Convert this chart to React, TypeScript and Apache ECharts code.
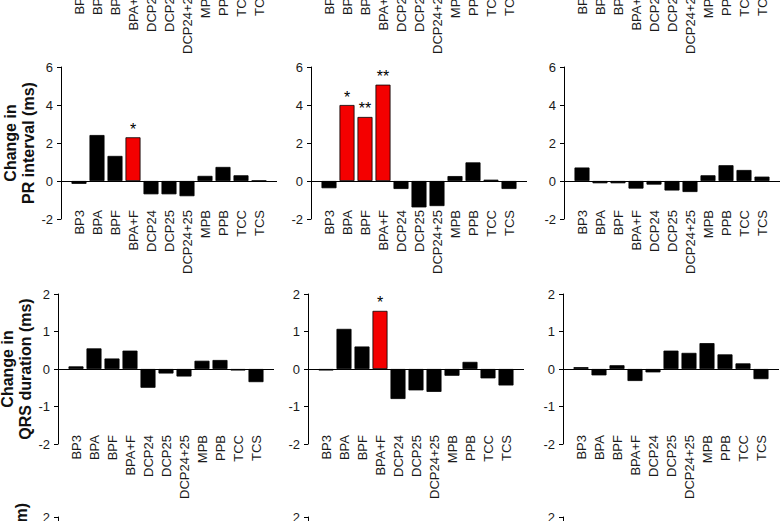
import React, { useEffect, useRef } from 'react';
import * as echarts from 'echarts';

// ---- data ----
const categories = ['BP3', 'BPA', 'BPF', 'BPA+F', 'DCP24', 'DCP25', 'DCP24+25', 'MPB', 'PPB', 'TCC', 'TCS'];

const prLeft = [-0.15, 2.42, 1.32, 2.3, -0.7, -0.7, -0.8, 0.27, 0.74, 0.3, 0.02];
const prMid = [-0.38, 4.0, 3.37, 5.07, -0.42, -1.39, -1.32, 0.26, 0.98, 0.07, -0.42];
const prRight = [0.71, -0.12, -0.12, -0.4, -0.19, -0.5, -0.58, 0.3, 0.83, 0.58, 0.23];

const qrsLeft = [0.07, 0.55, 0.28, 0.49, -0.5, -0.12, -0.2, 0.22, 0.24, -0.04, -0.35];
const qrsMid = [-0.04, 1.07, 0.6, 1.55, -0.8, -0.57, -0.61, -0.18, 0.19, -0.25, -0.44];
const qrsRight = [0.05, -0.17, 0.1, -0.32, -0.09, 0.49, 0.43, 0.69, 0.39, 0.15, -0.27];

const prLeftStars = ['', '', '', '*', '', '', '', '', '', '', ''];
const prMidStars = ['', '*', '**', '**', '', '', '', '', '', '', ''];
const prRightStars = ['', '', '', '', '', '', '', '', '', '', ''];
const qrsLeftStars = ['', '', '', '', '', '', '', '', '', '', ''];
const qrsMidStars = ['', '', '', '*', '', '', '', '', '', '', ''];
const qrsRightStars = ['', '', '', '', '', '', '', '', '', '', ''];

const prTitle = 'Change in\nPR interval (ms)';
const qrsTitle = 'Change in\nQRS duration (ms)';
const nextTitle = 'Change in heart rate (bpm)';

// ---- layout / style ----
const FONT = '"Liberation Sans", Arial, Helvetica, sans-serif';
const RED = '#f40000';
const W = 216;
const rowTops = [-153, 67, 294, 517];
const rowHeights = [152, 152, 150, 150];
const rowLefts = [
  [61, 311, 564],
  [61, 311, 564],
  [58, 308, 563],
  [58, 308, 563],
];

type Panel = {
  row: number;
  col: number;
  values?: number[];
  stars?: string[];
  yMin: number;
  yMax: number;
  yInt: number;
  showY: boolean;
  title?: string;
};

const panels: Panel[] = [];
for (let c = 0; c < 3; c++) panels.push({ row: 0, col: c, yMin: -2, yMax: 2, yInt: 1, showY: false });
const prSets = [prLeft, prMid, prRight];
const prStarSets = [prLeftStars, prMidStars, prRightStars];
for (let c = 0; c < 3; c++)
  panels.push({ row: 1, col: c, values: prSets[c], stars: prStarSets[c], yMin: -2, yMax: 6, yInt: 2, showY: true, title: c === 0 ? prTitle : undefined });
const qrsSets = [qrsLeft, qrsMid, qrsRight];
const qrsStarSets = [qrsLeftStars, qrsMidStars, qrsRightStars];
for (let c = 0; c < 3; c++)
  panels.push({ row: 2, col: c, values: qrsSets[c], stars: qrsStarSets[c], yMin: -2, yMax: 2, yInt: 1, showY: true, title: c === 0 ? qrsTitle : undefined });
for (let c = 0; c < 3; c++) panels.push({ row: 3, col: c, yMin: -2, yMax: 2, yInt: 1, showY: true });

function buildOption() {
  const grid: any[] = [];
  const xAxis: any[] = [];
  const yAxis: any[] = [];
  const series: any[] = [];
  panels.forEach((p, k) => {
    grid.push({
      left: rowLefts[p.row][p.col],
      top: rowTops[p.row],
      width: W,
      height: rowHeights[p.row],
      containLabel: false,
      outerBoundsMode: 'none',
    });
    xAxis.push({
      type: 'value',
      gridIndex: k,
      min: -1,
      max: 11,
      interval: 1,
      axisLine: { show: false, onZero: false },
      axisTick: { show: false },
      splitLine: { show: false },
      axisLabel: {
        rotate: 90,
        margin: -9,
        fontSize: 13,
        fontFamily: FONT,
        color: '#1a1a1a',
        formatter: (v: number) => categories[Math.round(v)] ?? '',
      },
    });
    yAxis.push({
      type: 'value',
      gridIndex: k,
      show: p.showY,
      min: p.yMin,
      max: p.yMax,
      interval: p.yInt,
      axisLine: { show: true, onZero: false, lineStyle: { color: '#000', width: 1 } },
      axisTick: { show: true, inside: false, length: 4, lineStyle: { color: '#000' } },
      splitLine: { show: false },
      axisLabel: { fontSize: 13, fontFamily: FONT, color: '#1a1a1a', margin: 8 },
      name: p.title ?? '',
      nameLocation: 'middle',
      nameRotate: 90,
      nameGap: 24,
      nameTextStyle: { fontSize: 16, fontWeight: 'bold', fontFamily: FONT, color: '#111', lineHeight: 18 },
    });
    if (p.values) {
      const stars = p.stars ?? [];
      series.push({
        type: 'bar',
        xAxisIndex: k,
        yAxisIndex: k,
        barWidth: 15,
        itemStyle: { borderColor: '#000', borderWidth: 0.8 },
        label: { show: false, position: 'top', distance: 0, fontSize: 16, fontFamily: FONT, color: '#000' },
        data: p.values.map((v, i) => ({
          value: [i, v],
          itemStyle: { color: stars[i] ? RED : '#000' },
          label: stars[i] ? { show: true, formatter: stars[i] } : { show: false },
        })),
        markLine: {
          silent: true,
          symbol: ['none', 'none'],
          label: { show: false },
          lineStyle: { color: '#000', width: 1, type: 'solid' },
          data: [{ yAxis: 0 }],
        },
      });
    }
  });
  return {
    animation: false,
    backgroundColor: '#fff',
    grid,
    xAxis,
    yAxis,
    series,
    graphic: [
      {
        type: 'text',
        x: 21,
        y: 503,
        rotation: Math.PI / 2,
        style: {
          text: nextTitle,
          font: `bold 16px ${FONT}`,
          fill: '#111',
          align: 'right',
          verticalAlign: 'middle',
        },
      },
    ],
  };
}

export default function App() {
  const ref = useRef<HTMLDivElement>(null);
  useEffect(() => {
    if (!ref.current) return;
    const chart = echarts.init(ref.current, undefined, { renderer: 'svg' });
    chart.setOption(buildOption() as any);
    return () => chart.dispose();
  }, []);
  return (
    <div
      ref={ref}
      style={{ position: 'absolute', left: 0, top: 0, width: 782, height: 521, background: '#fff' }}
    />
  );
}
